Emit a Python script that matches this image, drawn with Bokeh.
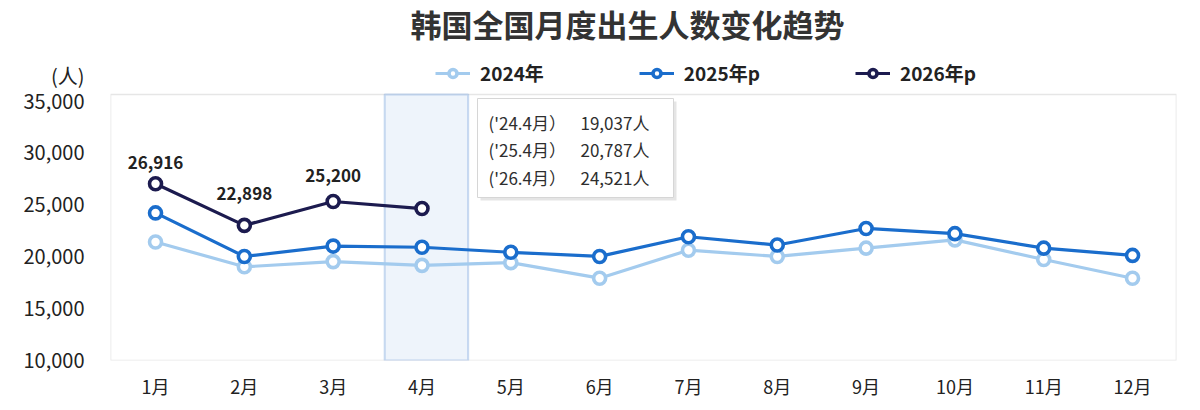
from bokeh.plotting import figure
from bokeh.models import (Range1d, FixedTicker, NumeralTickFormatter, BoxAnnotation,
                          Legend, LegendItem, ColumnDataSource, CustomJSTickFormatter)
from bokeh.core.properties import value
from bokeh.embed import file_html
from bokeh.resources import INLINE

# ---------------- data ----------------
months = list(range(1, 13))
month_labels = [f"{m}月" for m in months]
y2024 = [21300, 18900, 19400, 19037, 19300, 17800, 20500, 19900, 20700, 21500, 19600, 17800]
y2025 = [24100, 19900, 20900, 20787, 20300, 19900, 21800, 21000, 22600, 22100, 20700, 20000]
y2026 = [26916, 22898, 25200, 24521]
series_names = ["2024年", "2025年p", "2026年p"]
series_years = ["'24", "'25", "'26"]
y_ticks = [10000, 15000, 20000, 25000, 30000, 35000]
y_min, y_max = 10000, 35000
title_text = "韩国全国月度出生人数变化趋势"
unit_text = "(人)"
highlight_month = 4

FONT = "Noto Sans CJK SC"
colors = ["#a3cbee", "#1a6dcc", "#1c1b4f"]

# ---------------- layout helpers (screen px -> data) ----------------
W, H = 1184, 402
B_LEFT, B_RIGHT, B_BOTTOM = 110, 8, 42
FRAME_W = W - B_LEFT - B_RIGHT          # 1066
FRAME_BOTTOM = H - B_BOTTOM             # 360
YMIN_PX, YMAX_PX = 358.5, 99.5          # screen rows of y_min / y_max
x0, x1 = 0.493, 12.495
PX_PER_Y = (YMIN_PX - YMAX_PX) / (y_max - y_min)


def dx(px):
    return x0 + (px - B_LEFT) / FRAME_W * (x1 - x0)


def dy(py):
    return y_min + (YMIN_PX - py) / PX_PER_Y


# the frame covers the whole canvas height above the x axis, so the legend,
# title and info box can all be placed inside it
p = figure(width=W, height=H, output_backend="svg", toolbar_location=None,
           x_range=Range1d(x0, x1), y_range=Range1d(dy(FRAME_BOTTOM), dy(0)),
           min_border_left=B_LEFT, min_border_right=B_RIGHT, min_border_bottom=B_BOTTOM,
           min_border_top=0)
p.title = None

p.outline_line_color = None
p.xgrid.grid_line_color = None
p.ygrid.grid_line_color = None
p.background_fill_color = "white"
p.border_fill_color = "white"

for ax in (p.xaxis[0], p.yaxis[0]):
    ax.axis_line_color = None
    ax.major_tick_line_color = None
    ax.minor_tick_line_color = None
    ax.major_tick_out = 0
    ax.major_tick_in = 0
    ax.major_label_text_font = FONT
    ax.major_label_text_color = "#222222"

# y axis: value ticks plus the unit caption "(人)" shown at the top of the axis
unit_pos = dy(75)
p.yaxis.ticker = FixedTicker(ticks=y_ticks + [unit_pos])
p.yaxis.formatter = CustomJSTickFormatter(
    args=dict(unit_pos=unit_pos, unit=unit_text),
    code="""
        if (Math.abs(tick - unit_pos) < 1) { return unit; }
        return Math.round(tick).toLocaleString('en-US');
    """)
p.yaxis.major_label_text_font_size = "20px"
p.yaxis.major_label_standoff = 26
p.xaxis.ticker = FixedTicker(ticks=months)
p.xaxis.major_label_overrides = {m: lab for m, lab in zip(months, month_labels)}
p.xaxis.major_label_text_font_size = "18px"
p.xaxis.major_label_standoff = 12

# chart box
p.add_layout(BoxAnnotation(top=dy(94), fill_alpha=0,
                           line_color="#acacac", line_width=1.6, level="underlay"))

# highlight box for April
p.add_layout(BoxAnnotation(left=highlight_month - 0.42, right=highlight_month + 0.52,
                           top=dy(94), fill_color="#eef4fb", fill_alpha=1.0,
                           line_color="#4f88d0", line_width=2, level="underlay"))

# title
p.text([dx(627)], [dy(23)], text=[title_text], text_align="center", text_baseline="middle",
       text_font=value(FONT), text_font_size="31px", text_font_style="bold",
       text_color="#333333")

# info box (drawn first so the text sits on top)
i = highlight_month - 1
p.quad(left=[dx(480)], right=[dx(676)], bottom=[dy(200)], top=[dy(101)],
       fill_color="#000000", fill_alpha=0.10, line_color=None)
p.quad(left=[dx(477)], right=[dx(673)], bottom=[dy(197)], top=[dy(98)],
       fill_color="white", line_color="#d6d6d6", line_width=1)
box_src = ColumnDataSource(dict(
    y=[dy(122), dy(149), dy(177)],
    a=[f"({yy}.{highlight_month}月）" for yy in series_years],
    b=[f"{s[i]:,}人" for s in (y2024, y2025, y2026)],
    xa=[dx(488)] * 3, xb=[dx(580)] * 3))
p.text("xa", "y", text="a", source=box_src, text_align="left", text_baseline="middle",
       text_font=value(FONT), text_font_size="17px", text_color="#2e2e2e")
p.text("xb", "y", text="b", source=box_src, text_align="left", text_baseline="middle",
       text_font=value(FONT), text_font_size="17px", text_color="#2e2e2e")

# series
items = []
for name, ys, col in zip(series_names, [y2024, y2025, y2026], colors):
    xs = months[:len(ys)]
    src = ColumnDataSource(dict(x=xs, y=ys))
    r1 = p.line("x", "y", source=src, line_color=col, line_width=3.2)
    r2 = p.scatter("x", "y", source=src, size=12, line_color=col, line_width=3.6,
                   fill_color="white")
    items.append(LegendItem(label=name, renderers=[r1, r2]))

legend = Legend(items=items, orientation="horizontal",
                location=(435 - B_LEFT, FRAME_BOTTOM - 86),
                glyph_width=35, label_standoff=10, spacing=95, padding=0, margin=0,
                border_line_color=None, background_fill_alpha=0,
                label_text_font=FONT, label_text_font_size="19px",
                label_text_font_style="bold", label_text_color="#222222")
p.add_layout(legend, "center")

# 2026 value labels
label_dy = [21, 32, 26, 0]
lab_src = ColumnDataSource(dict(x=months[:3], y=y2026[:3],
                                t=[f"{v:,}" for v in y2026[:3]],
                                off=[-d for d in label_dy[:3]]))
p.text("x", "y", text="t", source=lab_src, y_offset="off", text_align="center",
       text_baseline="middle", text_font=value(FONT), text_font_size="17px",
       text_font_style="bold", text_color="#222222")

open("out.html", "w").write(file_html(p, INLINE))
